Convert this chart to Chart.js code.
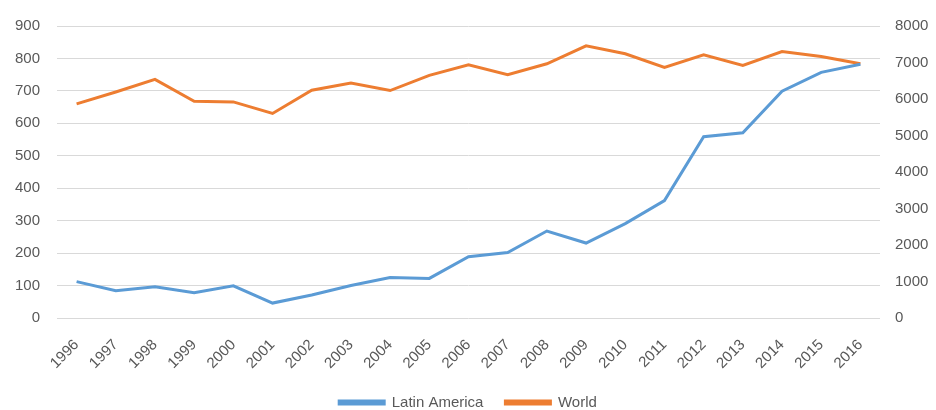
<!DOCTYPE html>
<html>
<head>
<meta charset="utf-8">
<script src="https://cdn.jsdelivr.net/npm/chart.js@4/dist/chart.umd.min.js"></script>
<style>
html,body{margin:0;padding:0;background:#fff;}
#wrap{width:936px;height:410px;}
</style>
</head>
<body>
<div id="wrap"><canvas id="c" width="936" height="410"></canvas></div>
<script>
const years = ['1996','1997','1998','1999','2000','2001','2002','2003','2004','2005','2006','2007','2008','2009','2010','2011','2012','2013','2014','2015','2016'];
const latinAmerica = [112, 84, 96, 78, 99, 46, 71, 100, 125, 122, 189, 202, 268, 231, 291, 362, 559, 571, 699, 757, 782];
const world = [5867, 6193, 6539, 5940, 5921, 5605, 6240, 6438, 6231, 6648, 6939, 6667, 6966, 7456, 7238, 6865, 7211, 6920, 7301, 7165, 6966];
const leftTicks = [0, 900, 100];
const rightTicks = [0, 8000, 1000];

const FONT = "'Liberation Sans', 'DejaVu Sans', sans-serif";
Chart.defaults.font.family = FONT;
Chart.defaults.font.size = 15;
Chart.defaults.color = '#595959';

new Chart(document.getElementById('c'), {
  type: 'line',
  data: {
    labels: years,
    datasets: [
      {label: 'Latin America', data: latinAmerica, borderColor: '#5B9BD5', backgroundColor: '#5B9BD5', borderWidth: 3, pointRadius: 0, tension: 0, yAxisID: 'y'},
      {label: 'World', data: world, borderColor: '#ED7D31', backgroundColor: '#ED7D31', borderWidth: 3, pointRadius: 0, tension: 0, yAxisID: 'y2'}
    ]
  },
  options: {
    responsive: false,
    animation: false,
    layout: {padding: {top: 24, left: 0, right: 0, bottom: -10}},
    plugins: {
      legend: {
        position: 'bottom',
        labels: {boxWidth: 45, boxHeight: 3, padding: 22, color: '#595959', font: {size: 15}}
      },
      tooltip: {enabled: false}
    },
    scales: {
      x: {
        offset: true,
        grid: {display: false},
        border: {display: false},
        ticks: {minRotation: 45, maxRotation: 45, autoSkip: false, padding: 10},
        afterFit: s => { s.height = 55; }
      },
      y: {
        position: 'left',
        min: leftTicks[0], max: leftTicks[1],
        ticks: {stepSize: leftTicks[2], padding: 17},
        grid: {color: '#D9D9D9', drawTicks: false},
        border: {display: false},
        afterFit: s => { s.width = 57; }
      },
      y2: {
        position: 'right',
        min: rightTicks[0], max: rightTicks[1],
        ticks: {stepSize: rightTicks[2], padding: 15, callback: v => String(v)},
        grid: {display: false, drawTicks: false},
        border: {display: false},
        afterFit: s => { s.width = 56; }
      }
    }
  }
});
</script>
</body>
</html>
